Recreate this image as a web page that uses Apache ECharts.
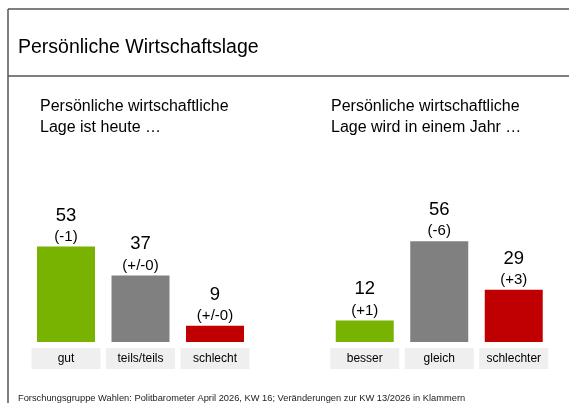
<!DOCTYPE html>
<html>
<head>
<meta charset="utf-8">
<script src="https://cdn.jsdelivr.net/npm/echarts@6/dist/echarts.min.js"></script>
<style>
  html, body { margin: 0; padding: 0; background: #fff; }
  #chart { width: 569px; height: 403px; }
</style>
</head>
<body>
<div id="chart"></div>
<script>
// Daten
const todayCats = ['gut', 'teils/teils', 'schlecht']
const todayValues = [53, 37, 9]
const todayChanges = ['(-1)', '(+/-0)', '(+/-0)']

const nextYearCats = ['besser', 'gleich', 'schlechter']
const nextYearValues = [12, 56, 29]
const nextYearChanges = ['(+1)', '(-6)', '(+3)']

const barColors = ['#77b300', '#808080', '#c00000']

const font = '"Liberation Sans", Arial, sans-serif'

function makeSeries(values, changes, idx) {
  return {
    type: 'bar',
    xAxisIndex: idx,
    yAxisIndex: idx,
    barWidth: 58,
    silent: true,
    data: values.map((v, i) => ({
      value: v,
      itemStyle: { color: barColors[i] },
      label: { formatter: '{n|' + v + '}\n{c|' + changes[i] + '}' }
    })),
    label: {
      show: true,
      position: 'top',
      distance: 0,
      fontFamily: font,
      rich: {
        n: { fontSize: 18.5, lineHeight: 22, color: '#000', fontFamily: font },
        c: { fontSize: 15, lineHeight: 20, color: '#000', fontFamily: font }
      }
    }
  }
}

function makeXAxis(cats, idx) {
  return {
    type: 'category',
    gridIndex: idx,
    data: cats,
    axisLine: { show: false },
    axisTick: { show: false },
    axisLabel: {
      margin: 6,
      fontSize: 12,
      fontFamily: font,
      color: '#000',
      backgroundColor: '#efefef',
      width: 69,
      height: 21,
      lineHeight: 21,
      align: 'center',
      interval: 0
    }
  }
}

function makeYAxis(idx) {
  return {
    type: 'value',
    gridIndex: idx,
    min: 0,
    max: 100,
    show: false,
    splitLine: { show: false }
  }
}

const chart = echarts.init(document.getElementById('chart'))
chart.setOption({
  animation: false,
  backgroundColor: '#fff',
  grid: [
    { left: 28.75, width: 223.5, top: 162, height: 180 },
    { left: 327.5, width: 223.5, top: 162, height: 180 }
  ],
  xAxis: [makeXAxis(todayCats, 0), makeXAxis(nextYearCats, 1)],
  yAxis: [makeYAxis(0), makeYAxis(1)],
  series: [
    makeSeries(todayValues, todayChanges, 0),
    makeSeries(nextYearValues, nextYearChanges, 1)
  ],
  graphic: [
    // Rahmen
    { type: 'line', shape: { x1: 8, y1: 9, x2: 569, y2: 9 }, style: { stroke: '#555', lineWidth: 1.5 } },
    { type: 'line', shape: { x1: 8, y1: 9, x2: 8, y2: 403 }, style: { stroke: '#555', lineWidth: 1.5 } },
    { type: 'line', shape: { x1: 8, y1: 76, x2: 569, y2: 76 }, style: { stroke: '#555', lineWidth: 1.5 } },
    {
      type: 'text', left: 18, top: 38,
      style: { text: 'Persönliche Wirtschaftslage', fontSize: 19.5, fontFamily: font, fill: '#000' }
    },
    {
      type: 'text', left: 40, top: 96,
      style: { text: 'Persönliche wirtschaftliche\nLage ist heute …', fontSize: 16, lineHeight: 21, fontFamily: font, fill: '#000' }
    },
    {
      type: 'text', left: 331, top: 96,
      style: { text: 'Persönliche wirtschaftliche\nLage wird in einem Jahr …', fontSize: 16, lineHeight: 21, fontFamily: font, fill: '#000' }
    },
    {
      type: 'text', left: 18, top: 394,
      style: { text: 'Forschungsgruppe Wahlen: Politbarometer April 2026, KW 16; Veränderungen zur KW 13/2026 in Klammern', fontSize: 9.3, fontFamily: font, fill: '#222' }
    }
  ]
})
</script>
</body>
</html>
